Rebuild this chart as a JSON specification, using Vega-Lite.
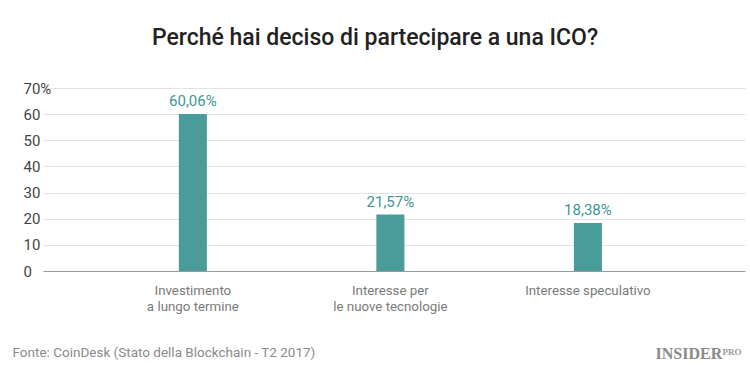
{
  "$schema": "https://vega.github.io/schema/vega-lite/v6.json",
  "autosize": "none",
  "width": 702,
  "height": 183,
  "padding": {"left": 43, "top": 88, "right": 5, "bottom": 95},
  "background": "white",
  "title": {
    "text": "Perché hai deciso di partecipare a una ICO?",
    "anchor": "middle",
    "frame": "group",
    "dx": -19,
    "offset": 13,
    "baseline": "alphabetic",
    "font": "Roboto",
    "fontSize": 23,
    "fontWeight": 500,
    "color": "#222222"
  },
  "data": {
    "values": [
      {"motivo": "Investimento|a lungo termine", "value": 60.06},
      {"motivo": "Interesse per|le nuove tecnologie", "value": 21.57},
      {"motivo": "Interesse speculativo", "value": 18.38}
    ]
  },
  "config": {
    "view": {"stroke": null},
    "font": "Roboto"
  },
  "resolve": {"scale": {"x": "independent", "y": "independent"}, "axis": {"x": "independent", "y": "independent"}},
  "layer": [
    {
      "mark": {"type": "bar", "color": "#4a9c9b"},
      "encoding": {
        "x": {
          "field": "motivo",
          "type": "nominal",
          "sort": null,
          "scale": {"type": "band", "paddingInner": 0.858, "paddingOuter": 0.706, "align": 0.487},
          "axis": {
            "labelAngle": 0,
            "labelExpr": "split(datum.label, '|')",
            "labelFont": "Roboto",
            "labelFontSize": 13.3,
            "labelColor": "#7a7a7a",
            "labelLineHeight": 16,
            "labelPadding": 12,
            "labelBaseline": "top",
            "ticks": false,
            "domain": true,
            "domainColor": "#9a9a9a",
            "domainWidth": 1,
            "title": "Fonte: CoinDesk (Stato della Blockchain - T2 2017)",
            "titleFont": "Roboto",
            "titleFontSize": 13.5,
            "titleFontWeight": "normal",
            "titleColor": "#8a8a8a",
            "titleAnchor": "start",
            "titleAlign": "left",
            "titleBaseline": "middle",
            "titleX": -31,
            "titleY": 81
          }
        },
        "y": {
          "field": "value",
          "type": "quantitative",
          "scale": {"domain": [0, 70], "nice": false},
          "axis": {
            "values": [0, 10, 20, 30, 40, 50, 60, 70],
            "labelExpr": "datum.value == 70 ? '70%' : datum.label",
            "labelAlign": "left",
            "labelPadding": 20,
            "labelOverlap": false,
            "labelFlush": false,
            "labelBaseline": "middle",
            "ticks": false,
            "tickSize": 0,
            "domain": false,
            "grid": true,
            "gridColor": "#e3e3e3",
            "gridWidth": 1,
            "labelFont": "Roboto",
            "labelFontSize": 15,
            "labelColor": "#444444",
            "title": null
          }
        }
      }
    },
    {
      "transform": [
        {"calculate": "replace(format(datum.value, '.2f'), '.', ',') + '%'", "as": "etichetta"}
      ],
      "mark": {"type": "text", "baseline": "bottom", "dy": -5, "font": "Roboto", "fontSize": 15, "color": "#3f9593"},
      "encoding": {
        "x": {
          "field": "motivo",
          "type": "nominal",
          "sort": null,
          "bandPosition": 0.5,
          "scale": {"type": "band", "paddingInner": 0.858, "paddingOuter": 0.706, "align": 0.487},
          "axis": null
        },
        "y": {
          "field": "value",
          "type": "quantitative",
          "scale": {"domain": [0, 70], "nice": false},
          "axis": null
        },
        "text": {"field": "etichetta"}
      }
    },
    {
      "mark": {"type": "point", "opacity": 0},
      "encoding": {
        "x": {
          "field": "motivo",
          "type": "nominal",
          "axis": {
            "orient": "top",
            "labels": false,
            "ticks": false,
            "domain": false,
            "title": "PRO",
            "titleFont": "Liberation Serif",
            "titleFontSize": 9,
            "titleFontWeight": "bold",
            "titleColor": "#9a9a9a",
            "titleAnchor": "start",
            "titleAlign": "left",
            "titleBaseline": "alphabetic",
            "titleX": 679,
            "titleY": 266
          }
        },
        "y": {
          "field": "value",
          "type": "quantitative",
          "axis": {
            "orient": "right",
            "labels": false,
            "ticks": false,
            "domain": false,
            "grid": false,
            "title": "INSIDER",
            "titleAngle": 0,
            "titleFont": "Liberation Serif",
            "titleFontSize": 16,
            "titleFontWeight": "bold",
            "titleColor": "#8a8a8a",
            "titleAlign": "left",
            "titleBaseline": "alphabetic",
            "titleX": -90,
            "titleY": 270
          }
        }
      }
    }
  ]
}
